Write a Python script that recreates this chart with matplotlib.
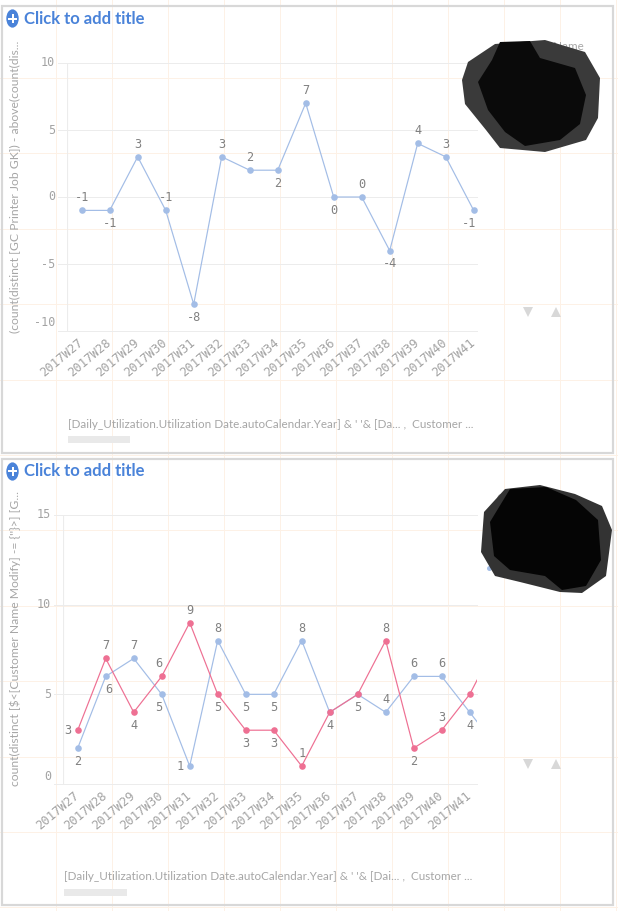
import matplotlib
matplotlib.use("Agg")
import matplotlib.pyplot as plt
from matplotlib.lines import Line2D
from matplotlib.patches import Rectangle, Circle, Polygon

# ---------------- data ----------------
weeks = ["2017W27", "2017W28", "2017W29", "2017W30", "2017W31", "2017W32",
         "2017W33", "2017W34", "2017W35", "2017W36", "2017W37", "2017W38",
         "2017W39", "2017W40", "2017W41", "2017W42"]

top_values = [-1, -1, 3, -1, -8, 3, 2, 2, 7, 0, 0, -4, 4, 3, -1]
pink_values = [3, 7, 4, 6, 9, 5, 3, 3, 1, 4, 5, 8, 2, 3, 5, 8]
blue_values = [2, 6, 7, 5, 1, 8, 5, 5, 8, 4, 5, 4, 6, 6, 4, 2]

top_yticks = [-10, -5, 0, 5, 10]
bottom_yticks = [0, 5, 10, 15]

title_text = "Click to add title"
top_ylabel = "(count(distinct [GC Printer Job GK]) - above(count(dis..."
bottom_ylabel = "count(distinct [$<[Customer Name Modify] -= {''}>] [G..."
top_footer = "[Daily_Utilization.Utilization Date.autoCalendar.Year] & ' '& [Da... ,  Customer ..."
bottom_footer = "[Daily_Utilization.Utilization Date.autoCalendar.Year] & ' '& [Dai... ,  Customer ..."

# label placement (style): a=above, b=below, l=left, ''=hidden
top_sides = ['a', 'b', 'a', 'a', 'b', 'a', 'a', 'b', 'a', 'b', 'a', 'b', 'a', 'a', 'b']
pink_sides = ['l', 'a', 'b', 'a', 'a', 'b', 'b', 'b', 'a', 'b', 'b', 'a', 'b', 'a', '', '']
blue_sides = ['b', 'b', 'a', 'b', 'l', 'a', 'b', 'b', 'a', '', '', 'a', 'a', 'a', 'b', '']
top_dx = {14: -5}
pink_dx = {3: -3}
blue_dx = {1: 3, 3: -3}

# ---------------- style ----------------
W, H = 618, 911
BLUE = "#a3bde6"
PINK = "#ee7093"
TITLE_BLUE = "#4a83d9"
GRID = "#ececec"
TICK_C = "#a3a3a3"
LABEL_C = "#808080"
TEXT_C = "#a6a6a6"
PEACH = "#fdf1e6"
PX = 0.72  # points per pixel at dpi 100

fig = plt.figure(figsize=(W / 100, H / 100), dpi=100)
fig.patch.set_facecolor("white")


def fx(x):
    return x / W


def fy(y):
    return 1 - y / H


# faint sheet grid in the background
for k in range(11):
    x = 55.7 + 56 * k
    fig.add_artist(Line2D([fx(x), fx(x)], [0, 1], color=PEACH, lw=1 * PX,
                          transform=fig.transFigure, zorder=-5))
for k in range(12):
    y = 78 + 75.4 * k
    fig.add_artist(Line2D([0, 1], [fy(y), fy(y)], color=PEACH, lw=1 * PX,
                          transform=fig.transFigure, zorder=-5))


def panel(top, bottom):
    fig.add_artist(Rectangle((fx(2), fy(bottom)), fx(613) - fx(2), fy(top) - fy(bottom),
                             transform=fig.transFigure, facecolor="none",
                             edgecolor="#d8d8d8", lw=2.2 * PX, zorder=1))
    # title with plus icon
    cy = top + 13
    fig.add_artist(Circle((fx(12.5), fy(cy)), 6.2 / W, transform=fig.transFigure,
                          facecolor=TITLE_BLUE, edgecolor="none", zorder=3))
    fig.add_artist(Line2D([fx(9), fx(16)], [fy(cy), fy(cy)], color="white", lw=2 * PX,
                          transform=fig.transFigure, zorder=4))
    fig.add_artist(Line2D([fx(12.5), fx(12.5)], [fy(cy - 3.5), fy(cy + 3.5)], color="white",
                          lw=2 * PX, transform=fig.transFigure, zorder=4))
    fig.text(fx(23.5), fy(cy), title_text, family="Lato", weight="bold", fontsize=12,
             color=TITLE_BLUE, ha="left", va="center")


def chart(rect_px, ylim, yticks, ylabel, ylabel_cy, footer, footer_xy, bar_rect,
          x0_px, series, arrows_y):
    left, top, right, bottom = rect_px
    ax = fig.add_axes([fx(left), fy(bottom), fx(right) - fx(left), fy(top) - fy(bottom)])
    ax.set_facecolor("none")
    for s in ax.spines.values():
        s.set_visible(False)
    width_px = right - left
    step = 28.0
    xmin = -(x0_px - left) / step
    xmax = xmin + width_px / step
    # x ticks (set before the limits, since set_xticks may widen the view)
    ax.set_xticks(range(len(weeks)), labels=weeks)
    ax.set_xlim(xmin, xmax)
    ax.set_ylim(*ylim)
    ax.tick_params(axis="x", length=0, pad=7.2, labelsize=8.8, labelcolor=TICK_C)
    for lab in ax.get_xticklabels():
        lab.set_family("DejaVu Sans Mono")
        lab.set_rotation(40)
        lab.set_ha("right")
        lab.set_va("center")
        lab.set_rotation_mode("anchor")
    # grid
    ext = 9 / width_px
    for t in yticks:
        ax.axhline(t, xmin=-ext, xmax=1, color=GRID, lw=1 * PX, clip_on=False, zorder=0)
    ax.axvline(xmin, color=GRID, lw=1.2 * PX, zorder=0)
    ax.axvline(xmax, color="#f3f3f3", lw=1 * PX, zorder=0)
    ax.set_yticks([])
    # y tick labels (manual so the lowest one can sit above its line)
    for i, t in enumerate(yticks):
        off = 8 if i == 0 else 0
        ax.annotate(str(t), xy=(0, t), xycoords=("axes fraction", "data"),
                    xytext=(-12 * PX, off * PX), textcoords="offset points",
                    ha="right", va="center", family="DejaVu Sans Mono",
                    fontsize=8.5, color=TICK_C, annotation_clip=False)
    # series
    for vals, color, sides, dxs in series:
        xs = list(range(len(vals)))
        ax.plot(xs, vals, color=color, lw=1.2 * PX, marker="o", markersize=6.6 * PX,
                markeredgewidth=0, zorder=3)
        for i, v in enumerate(vals):
            sd = sides[i] if i < len(sides) else ''
            if not sd:
                continue
            dx = dxs.get(i, 0)
            if sd == 'a':
                off = (dx, 12.5)
            elif sd == 'b':
                off = (dx, -13)
            else:
                off = (-10 + dx, 0)
            ax.annotate(str(v), xy=(i, v), xytext=(off[0] * PX, off[1] * PX),
                        textcoords="offset points", ha="center", va="center",
                        family="DejaVu Sans Mono", fontsize=8.6, color=LABEL_C,
                        zorder=4, annotation_clip=False)
    # axis title
    fig.text(fx(15), fy(ylabel_cy), ylabel, rotation=90, ha="center", va="center",
             family="Lato", fontsize=8.7, color=TEXT_C)
    # footer
    fig.text(fx(footer_xy[0]), fy(footer_xy[1]), footer, ha="left", va="center",
             family="Lato", fontsize=8.4, color=TEXT_C)
    bx0, by0, bx1, by1 = bar_rect
    fig.add_artist(Rectangle((fx(bx0), fy(by1)), fx(bx1) - fx(bx0), fy(by0) - fy(by1),
                             transform=fig.transFigure, facecolor="#e9e9e9",
                             edgecolor="none"))
    # scroll arrows
    fig.add_artist(Line2D([fx(528)], [fy(arrows_y)], marker="v", markersize=7 * PX * 1.4,
                          color="#d8d8d8", markeredgewidth=0, transform=fig.transFigure))
    fig.add_artist(Line2D([fx(556)], [fy(arrows_y)], marker="^", markersize=7 * PX * 1.4,
                          color="#d8d8d8", markeredgewidth=0, transform=fig.transFigure))
    return ax


panel(5.5, 453)
panel(458.5, 905)

chart((67, 63, 477, 331), (-10, 10), top_yticks, top_ylabel, 187, top_footer,
      (68, 424), (68, 436, 130, 443), 81.7,
      [(top_values, BLUE, top_sides, top_dx)], 312)

chart((63.3, 515, 476.7, 784), (0, 15), bottom_yticks, bottom_ylabel, 639, bottom_footer,
      (64, 877), (64, 889, 127, 896), 77.7,
      [(blue_values, BLUE, blue_sides, blue_dx), (pink_values, PINK, pink_sides, pink_dx)], 764)

# legend remnants (hidden under the redaction)
fig.text(fx(500), fy(47), "Customer Name", family="Lato", fontsize=8.4, color=TEXT_C,
         ha="left", va="center", zorder=5)
fig.text(fx(497), fy(498), "Customer Name", family="Lato", fontsize=8.4, color=TEXT_C,
         ha="left", va="center", zorder=5)
fig.add_artist(Line2D([fx(489)], [fy(568)], marker="o", markersize=5 * PX, color=BLUE,
                      markeredgewidth=0, transform=fig.transFigure, zorder=5))


# redaction scribbles
def blob(pts, color):
    fig.add_artist(Polygon([(fx(x), fy(y)) for x, y in pts], closed=True,
                           transform=fig.transFigure, facecolor=color,
                           edgecolor="none", zorder=10))


blob([(468, 62), (495, 44), (545, 40), (585, 52), (600, 78), (598, 118), (586, 140),
      (545, 152), (500, 148), (486, 130), (465, 104), (462, 80)], "#3a3a3a")
blob([(500, 42), (530, 41), (540, 58), (575, 68), (586, 95), (580, 124), (560, 140),
      (525, 146), (505, 132), (488, 110), (478, 82), (492, 60)], "#0a0a0a")
blob([(484, 512), (505, 489), (540, 485), (575, 494), (602, 506), (612, 530),
      (606, 576), (582, 593), (560, 592), (520, 582), (495, 576), (481, 552)], "#333333")
blob([(490, 522), (510, 489), (546, 487), (576, 500), (598, 520), (601, 560),
      (586, 586), (562, 590), (545, 576), (510, 570), (494, 556)], "#050505")

fig.savefig("out.png", dpi=100, facecolor="white")
